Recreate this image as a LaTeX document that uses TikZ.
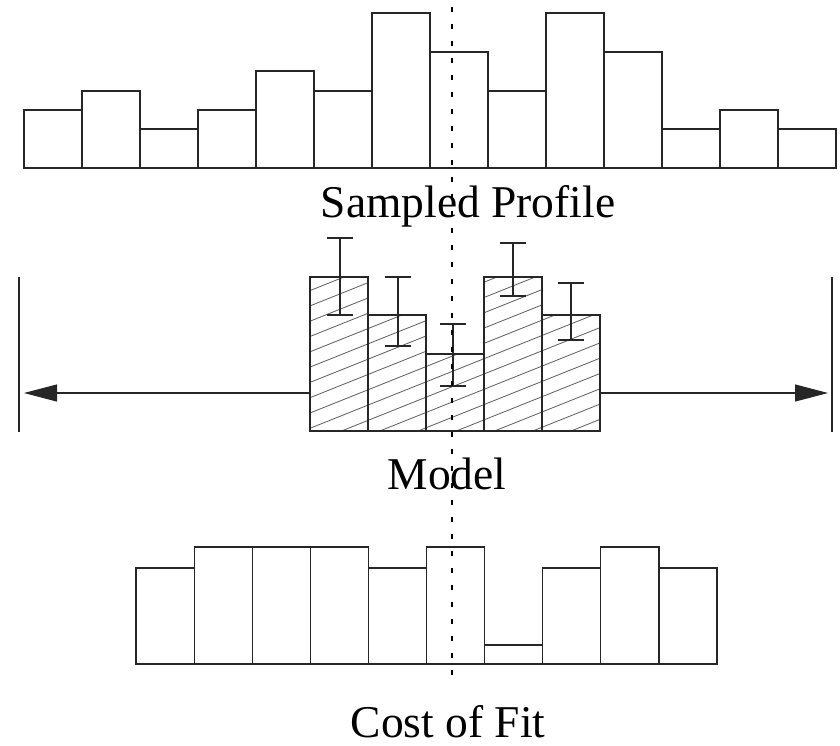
\documentclass[tikz,border=0pt]{standalone}
\usepackage{fontspec}
\setmainfont{Liberation Serif}
\usetikzlibrary{arrows.meta}
\begin{document}
\begin{tikzpicture}[x=1pt,y=-1pt,
  bar/.style={draw=black!85,line width=1.2pt},
  hatchline/.style={draw=black!65,line width=0.8pt},
  errbar/.style={draw=black!85,line width=1.1pt},
  arrowline/.style={draw=black!85,line width=1.1pt,-{Triangle[length=33pt,width=17pt]}},
  bound/.style={draw=black!85,line width=1.3pt},
  centre/.style={draw=black,line width=1.2pt,dash pattern=on 5pt off 12pt},
  lbl/.style={inner sep=0pt,anchor=base,font=\fontsize{45.5}{50}\selectfont}]
\useasboundingbox (0,0) rectangle (840,745);
% top sampled profile
\foreach \t [count=\i from 0] in {110,91,129,110,71,91,13,52,91,13,52,129,110,129}{
  \draw[bar] ({24+58*\i},168) rectangle ({24+58*(\i+1)},\t);
}
% model bars with hatching
\begin{scope}
  \clip (310,431) -- (310,277) -- (368,277) -- (368,315) -- (426,315) -- (426,354)
        -- (484,354) -- (484,277) -- (542,277) -- (542,315) -- (600,315) -- (600,431) -- cycle;
  \foreach \k in {0,...,32}{
    \draw[hatchline] (305,{262+15.3*\k}) -- (605,{262+15.3*\k-0.4*300});
  }
\end{scope}
\foreach \t [count=\i from 0] in {277,315,354,277,315}{
  \draw[bar] ({310+58*\i},431) rectangle ({310+58*(\i+1)},\t);
}
% error bars
\foreach \x/\a/\b in {340/238/315,398/277/346,453/324/386,513/243/296,571/283/340}{
  \draw[errbar] (\x,\a) -- (\x,\b);
  \draw[errbar] ({\x-13},\a) -- ({\x+13},\a);
  \draw[errbar] ({\x-13},\b) -- ({\x+13},\b);
}
% bounds and arrows
\draw[bound] (19,277) -- (19,432);
\draw[bound] (832,277) -- (832,432);
\coordinate (lstart) at (310,393);
\coordinate (ltip) at (24,393);
\coordinate (rstart) at (600,393);
\coordinate (rtip) at (828,393);
\draw[arrowline] (lstart) -- (ltip);
\draw[arrowline] (rstart) -- (rtip);
% cost of fit bars
\foreach \t [count=\i from 0] in {568,547,547,547,568,547,645,568,547,568}{
  \draw[bar] ({136+58.1*\i},664) rectangle ({136+58.1*(\i+1)},\t);
}
% centre line
\coordinate (ctop) at (452,7);
\coordinate (cbot) at (452,684);
\draw[centre] (ctop) -- (cbot);
% labels
\node[lbl] (sp) at (468,217) {Sampled Profile};
\node[lbl] (md) at (447,489) {Model};
\node[lbl] (cf) at (448,737) {Cost of Fit};
\end{tikzpicture}
\end{document}
